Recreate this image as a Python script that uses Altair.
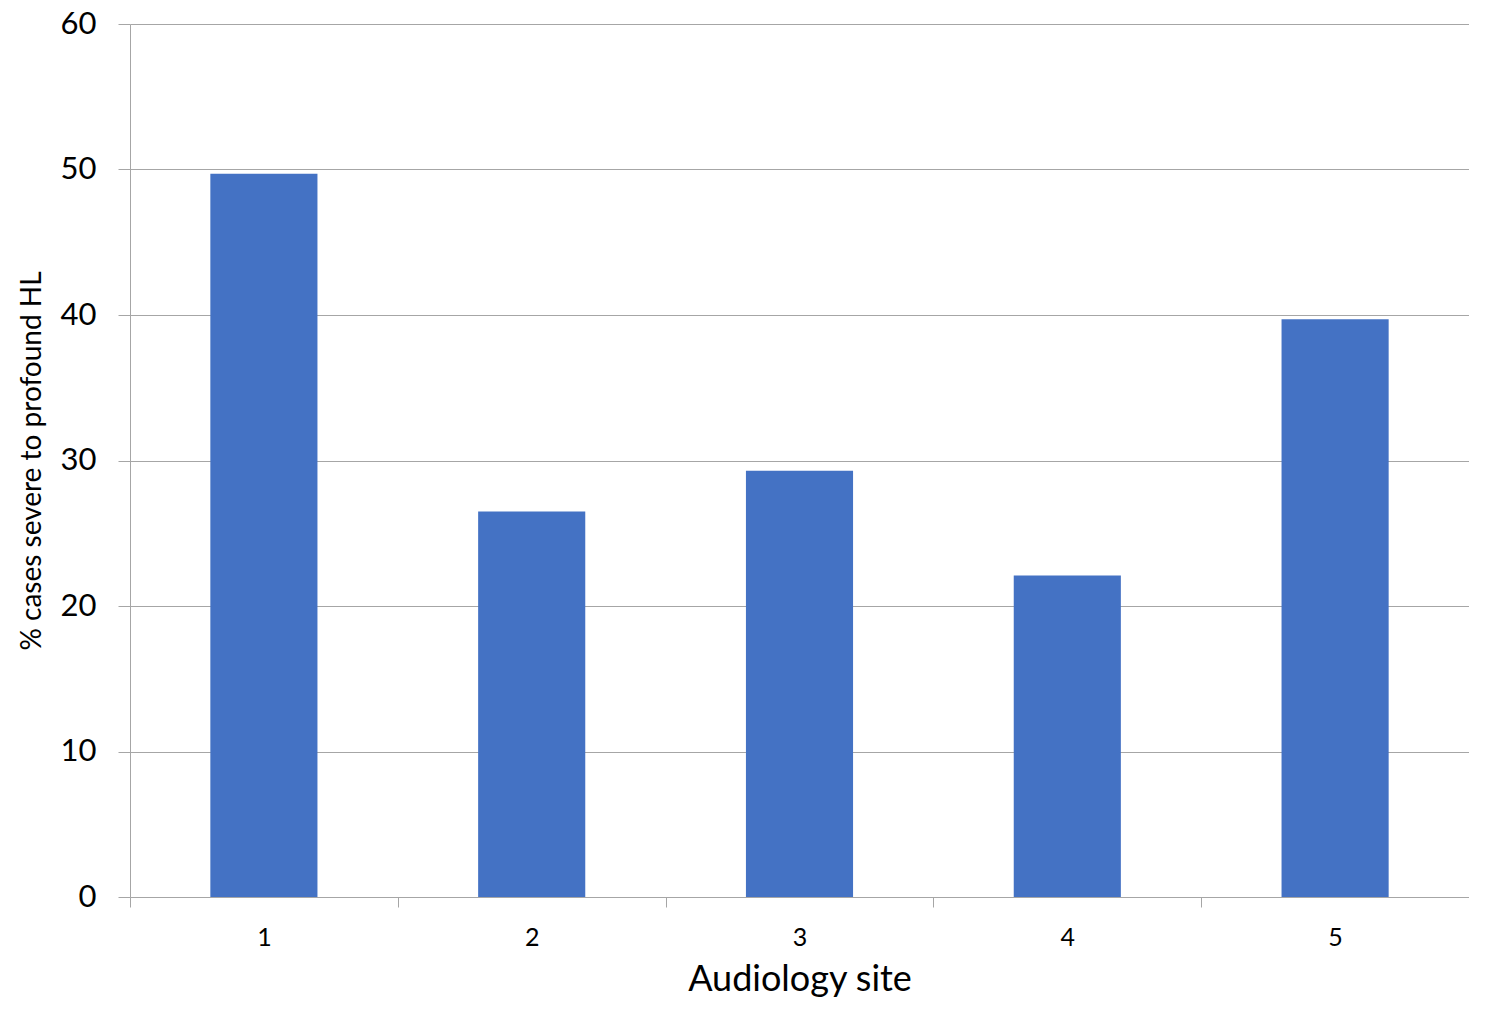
import altair as alt
import pandas as pd

sites = ["1", "2", "3", "4", "5"]
values = [49.7, 26.5, 29.3, 22.1, 39.7]

df = pd.DataFrame({"site": sites, "pct": values})

FONT = "Lato"
GREY = "#a6a6a6"

chart = alt.Chart(df).mark_bar(color="#4472C4", width=alt.RelativeBandSize(0.4)).encode(
    x=alt.X("site:N", sort=sites, title="Audiology site",
            scale=alt.Scale(paddingInner=0, paddingOuter=0),
            axis=alt.Axis(labelAngle=0, labelFontSize=25, labelFont=FONT, labelColor="#000",
                          labelPadding=18, tickBand="extent", tickSize=10, tickColor=GREY,
                          domainColor=GREY, titleFontSize=36, titleFont=FONT,
                          titleFontWeight="normal", titleColor="#000", titlePadding=12,
                          grid=False)),
    y=alt.Y("pct:Q", title="% cases severe to profound HL",
            scale=alt.Scale(domain=[0, 60], nice=False),
            axis=alt.Axis(values=[0, 10, 20, 30, 40, 50, 60], labelFontSize=31, labelFont=FONT,
                          labelColor="#000", labelPadding=22, tickSize=12, tickColor=GREY,
                          domainColor=GREY, gridColor=GREY, titleFontSize=28, titleFont=FONT,
                          titleFontWeight="normal", titleColor="#000", titleX=-84)),
).properties(
    width=1339, height=873,
    autosize=alt.AutoSizeParams(type="none"),
    padding={"left": 122, "top": 16, "right": 0, "bottom": 106},
).configure_view(stroke=None)

chart.save("out.html", embed_options={"renderer": "svg", "actions": False})
